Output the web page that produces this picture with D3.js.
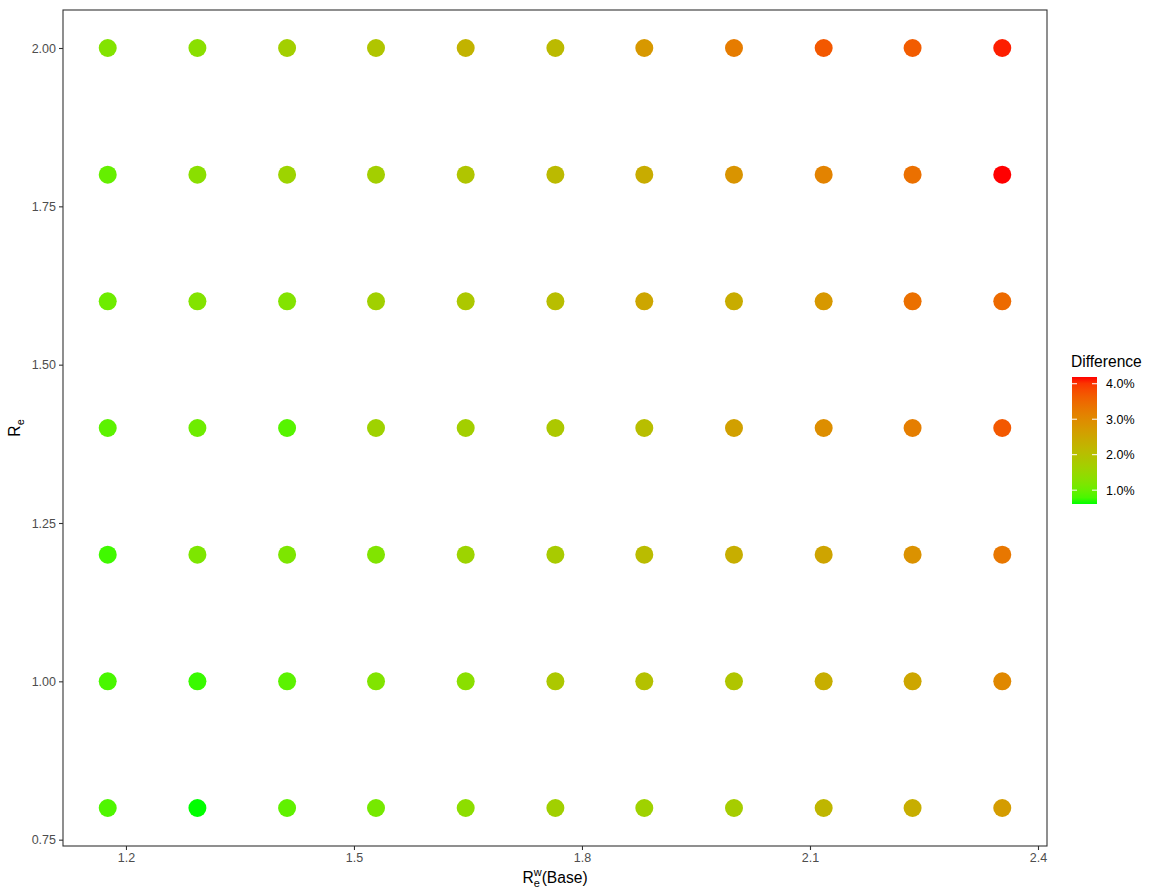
<!DOCTYPE html>
<html>
<head>
<meta charset="utf-8">
<script src="https://cdn.jsdelivr.net/npm/d3@7"></script>
<style>
  body { margin: 0; background: #fff; }
  svg text { font-family: "Liberation Sans", Arial, sans-serif; }
</style>
</head>
<body>
<svg id="chart" width="1149" height="890"></svg>
<script>
// base R_e^w values (x) and R_e values (y)
var xValues = [1.176, 1.294, 1.412, 1.529, 1.647, 1.765, 1.882, 2.000, 2.118, 2.235, 2.353];
var yValues = [2.0, 1.8, 1.6, 1.4, 1.2, 1.0, 0.8];

// difference in %, one row per yValues entry
var diffRows = [
  [1.25, 1.33, 1.68, 1.90, 2.26, 2.11, 2.76, 3.22, 3.69, 3.65, 4.12],
  [0.97, 1.33, 1.58, 1.68, 1.90, 2.11, 2.40, 2.83, 3.12, 3.40, 4.19],
  [1.04, 1.25, 1.25, 1.65, 1.83, 2.04, 2.51, 2.40, 2.76, 3.40, 3.47],
  [0.90, 1.04, 0.86, 1.61, 1.68, 1.83, 2.04, 2.61, 2.94, 3.19, 3.69],
  [0.75, 1.18, 1.18, 1.22, 1.58, 1.76, 2.08, 2.36, 2.54, 2.87, 3.30],
  [0.79, 0.72, 0.90, 1.22, 1.33, 1.83, 1.97, 1.90, 2.36, 2.51, 3.04],
  [0.82, 0.61, 0.93, 1.11, 1.36, 1.65, 1.61, 1.72, 2.19, 2.36, 2.69]
];

var xTicks = [1.2, 1.5, 1.8, 2.1, 2.4];
var yTicks = [0.75, 1.00, 1.25, 1.50, 1.75, 2.00];
var legendTicks = [1, 2, 3, 4];

var points = [];
yValues.forEach(function(yv, i) {
  xValues.forEach(function(xv, j) {
    points.push({x: xv, y: yv, diff: diffRows[i][j] / 100});
  });
});

var panel = {left: 63, right: 1047, top: 10, bottom: 846};

var svg = d3.select("#chart");

// ggplot style 5% expansion
var xExt = d3.extent(xValues), xPad = (xExt[1] - xExt[0]) * 0.05;
var yExt = d3.extent(yValues), yPad = (yExt[1] - yExt[0]) * 0.05;

var x = d3.scaleLinear()
  .domain([xExt[0] - xPad, xExt[1] + xPad])
  .range([panel.left, panel.right]);

var y = d3.scaleLinear()
  .domain([yExt[0] - yPad, yExt[1] + yPad])
  .range([panel.bottom, panel.top]);

var diffExt = d3.extent(points, function(d) { return d.diff; });
var colour = d3.scaleLinear()
  .domain(diffExt)
  .range(["#00ff00", "#ff0000"])
  .interpolate(d3.interpolateLab);

// points
svg.append("g")
  .selectAll("circle")
  .data(points)
  .enter()
  .append("circle")
  .attr("cx", function(d) { return x(d.x); })
  .attr("cy", function(d) { return y(d.y); })
  .attr("r", 9)
  .attr("fill", function(d) { return colour(d.diff); });

// panel border
svg.append("rect")
  .attr("x", panel.left)
  .attr("y", panel.top)
  .attr("width", panel.right - panel.left)
  .attr("height", panel.bottom - panel.top)
  .attr("fill", "none")
  .attr("stroke", "#333333")
  .attr("stroke-width", 1.1);

// axes
var xAxis = svg.append("g")
  .attr("transform", "translate(0," + panel.bottom + ")")
  .call(d3.axisBottom(x).tickValues(xTicks).tickFormat(d3.format(".1f")).tickSize(4).tickPadding(3));

var yAxis = svg.append("g")
  .attr("transform", "translate(" + panel.left + ",0)")
  .call(d3.axisLeft(y).tickValues(yTicks).tickFormat(d3.format(".2f")).tickSize(4).tickPadding(3));

[xAxis, yAxis].forEach(function(ax) {
  ax.select(".domain").remove();
  ax.selectAll(".tick line").attr("stroke", "#333333").attr("stroke-width", 1.1);
  ax.selectAll(".tick text")
    .attr("fill", "#4d4d4d")
    .style("font-size", "12.5px")
    .style("font-family", "'Liberation Sans', Arial, sans-serif");
});

// x axis title: R with stacked sub e / sup w, then (Base)
var xt = svg.append("g");
var rText = xt.append("text").attr("x", 0).attr("y", 0).style("font-size", "15.6px").text("R");
var rw = rText.node().getComputedTextLength();
xt.append("text").attr("x", rw).attr("y", -7).style("font-size", "11px").text("w");
xt.append("text").attr("x", rw).attr("y", 4).style("font-size", "11px").text("e");
var baseText = xt.append("text").attr("x", rw + 8).attr("y", 0).style("font-size", "15.6px").text("(Base)");
var totalW = rw + 8 + baseText.node().getComputedTextLength();
xt.attr("transform", "translate(" + ((panel.left + panel.right) / 2 - totalW / 2) + ",883)");

// y axis title: R with sub e, rotated
var yt = svg.append("g");
var ryText = yt.append("text").attr("x", 0).attr("y", 0).style("font-size", "15.6px").text("R");
var ryw = ryText.node().getComputedTextLength();
yt.append("text").attr("x", ryw).attr("y", 4).style("font-size", "11px").text("e");
var yTotal = ryw + 6;
yt.attr("transform", "translate(20," + ((panel.top + panel.bottom) / 2 + yTotal / 2) + ") rotate(-90)");

// legend
var bar = {left: 1072, width: 25, top: 377, bottom: 504};
var legendY = d3.scaleLinear().domain([diffExt[0] * 100, diffExt[1] * 100]).range([bar.bottom, bar.top]);

var grad = svg.append("defs").append("linearGradient")
  .attr("id", "diffGrad")
  .attr("x1", 0).attr("y1", 1).attr("x2", 0).attr("y2", 0);
d3.range(0, 1.0001, 0.05).forEach(function(t) {
  grad.append("stop")
    .attr("offset", t)
    .attr("stop-color", colour(diffExt[0] + t * (diffExt[1] - diffExt[0])));
});

svg.append("text")
  .attr("x", bar.left - 1)
  .attr("y", 367)
  .style("font-size", "15.6px")
  .attr("fill", "#000")
  .text("Difference");

svg.append("rect")
  .attr("x", bar.left)
  .attr("y", bar.top)
  .attr("width", bar.width)
  .attr("height", bar.bottom - bar.top)
  .attr("fill", "url(#diffGrad)");

var lg = svg.append("g").selectAll("g")
  .data(legendTicks)
  .enter()
  .append("g")
  .attr("transform", function(d) { return "translate(0," + legendY(d) + ")"; });

lg.append("line")
  .attr("x1", bar.left).attr("x2", bar.left + 5)
  .attr("stroke", "#fff").attr("stroke-width", 1);
lg.append("line")
  .attr("x1", bar.left + bar.width - 5).attr("x2", bar.left + bar.width)
  .attr("stroke", "#fff").attr("stroke-width", 1);
lg.append("text")
  .attr("x", bar.left + bar.width + 9)
  .attr("dy", "0.35em")
  .style("font-size", "12.5px")
  .attr("fill", "#000")
  .text(function(d) { return d3.format(".1%")(d / 100); });
</script>
</body>
</html>
